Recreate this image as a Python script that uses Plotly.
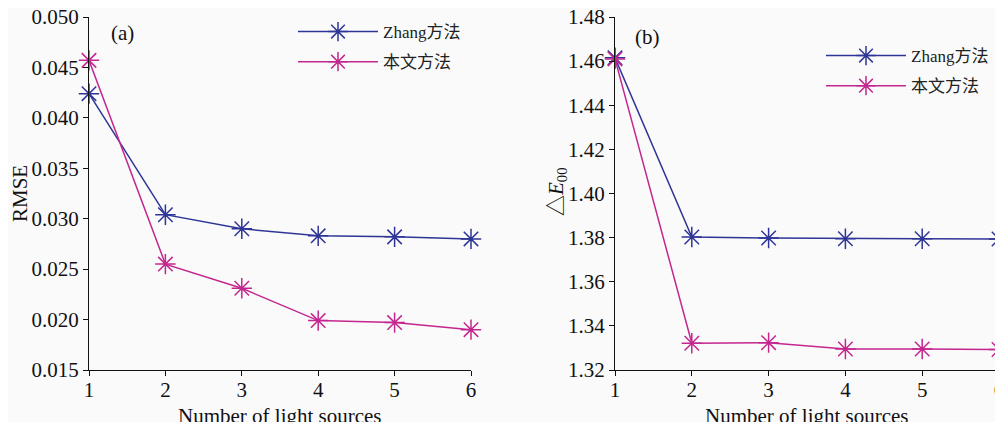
import plotly.graph_objects as go

x_sources = [1, 2, 3, 4, 5, 6]
rmse_zhang = [0.0424, 0.0304, 0.0290, 0.0283, 0.0282, 0.0280]
rmse_ours = [0.0457, 0.0255, 0.0231, 0.0199, 0.0197, 0.0190]
de_zhang = [1.4615, 1.3803, 1.3798, 1.3795, 1.3795, 1.3794]
de_ours = [1.4610, 1.3321, 1.3324, 1.3295, 1.3295, 1.3293]
names = ["Zhang方法", "本文方法"]
rmse_ticks = [0.015, 0.020, 0.025, 0.030, 0.035, 0.040, 0.045, 0.050]
de_ticks = [1.32, 1.34, 1.36, 1.38, 1.40, 1.42, 1.44, 1.46, 1.48]

BLUE = "#2f3596"
MAG = "#c4268f"
FONT = "Liberation Serif, Times New Roman, Noto Sans CJK SC, serif"

# the page body adds an 8px offset; figure covers the rest of the window
OFF = 8
W, H = 1003 - OFF, 422 - OFF


def px(x):
    return (x - OFF) / W


def py(y):
    return 1 - (y - OFF) / H


fig = go.Figure()


def add(y, name, color, xa, ya, legend):
    fig.add_trace(go.Scatter(
        x=x_sources, y=y, name=name, mode="lines+markers", legendgroup=name + legend,
        line=dict(color=color, width=1.5),
        marker=dict(symbol="asterisk-open", size=17, color=color, line=dict(color=color, width=1.5)),
        xaxis=xa, yaxis=ya, legend=legend, cliponaxis=False,
    ))


add(rmse_zhang, names[0], BLUE, "x", "y", "legend")
add(rmse_ours, names[1], MAG, "x", "y", "legend")
add(de_zhang, names[0], BLUE, "x2", "y2", "legend2")
add(de_ours, names[1], MAG, "x2", "y2", "legend2")

axis_common = dict(
    showline=True, linecolor="#111", linewidth=1.2, ticks="outside", ticklen=5,
    tickcolor="#111", showgrid=False, zeroline=False, automargin=False,
    ticklabeloverflow="allow",
    tickfont=dict(family=FONT, size=21, color="#111"),
)
tfont = dict(family=FONT, size=21, color="#111")
lfont = dict(family=FONT, size=17, color="#222")

fig.update_layout(
    width=W, height=H, margin=dict(l=0, r=0, t=0, b=0, autoexpand=False),
    paper_bgcolor="#fafafb", plot_bgcolor="#fafafb",
    font=dict(family=FONT, color="#111"),
    xaxis=dict(domain=[px(89), px(471)], range=[1, 6], tickvals=x_sources, anchor="y",
               ticklabelstandoff=-4, **axis_common),
    yaxis=dict(domain=[py(370), py(17)], range=[0.015, 0.050], tickvals=rmse_ticks,
               tickformat=".3f", anchor="x", **axis_common),
    xaxis2=dict(domain=[px(615), px(999)], range=[1, 6], tickvals=x_sources, anchor="y2",
                ticklabelstandoff=-4, **axis_common),
    yaxis2=dict(domain=[py(370), py(17)], range=[1.32, 1.48], tickvals=de_ticks,
                tickformat=".2f", anchor="x2", **axis_common),
    legend=dict(x=px(293), y=py(14), xanchor="left", yanchor="top", itemwidth=80,
                bgcolor="rgba(0,0,0,0)", font=lfont, traceorder="grouped", tracegroupgap=5),
    legend2=dict(x=px(821), y=py(38), xanchor="left", yanchor="top", itemwidth=80,
                 bgcolor="rgba(0,0,0,0)", font=lfont, traceorder="grouped", tracegroupgap=5),
    annotations=[
        dict(text="(a)", x=px(122), y=py(33), xref="paper", yref="paper", showarrow=False,
             xanchor="center", yanchor="middle", font=tfont),
        dict(text="(b)", x=px(647), y=py(37), xref="paper", yref="paper", showarrow=False,
             xanchor="center", yanchor="middle", font=tfont),
        dict(text="Number of light sources", x=px(280), y=py(416), xref="paper", yref="paper",
             showarrow=False, xanchor="center", yanchor="middle", font=tfont),
        dict(text="Number of light sources", x=px(807), y=py(416), xref="paper", yref="paper",
             showarrow=False, xanchor="center", yanchor="middle", font=tfont),
        dict(text="RMSE", x=px(20), y=py(194), xref="paper", yref="paper", textangle=-90,
             showarrow=False, xanchor="center", yanchor="middle", font=tfont),
        dict(text="△<i>E</i><sub>00</sub>", x=px(557), y=py(192), xref="paper", yref="paper",
             textangle=-90, showarrow=False, xanchor="center", yanchor="middle", font=tfont),
    ],
)

fig.write_html("out.html")
